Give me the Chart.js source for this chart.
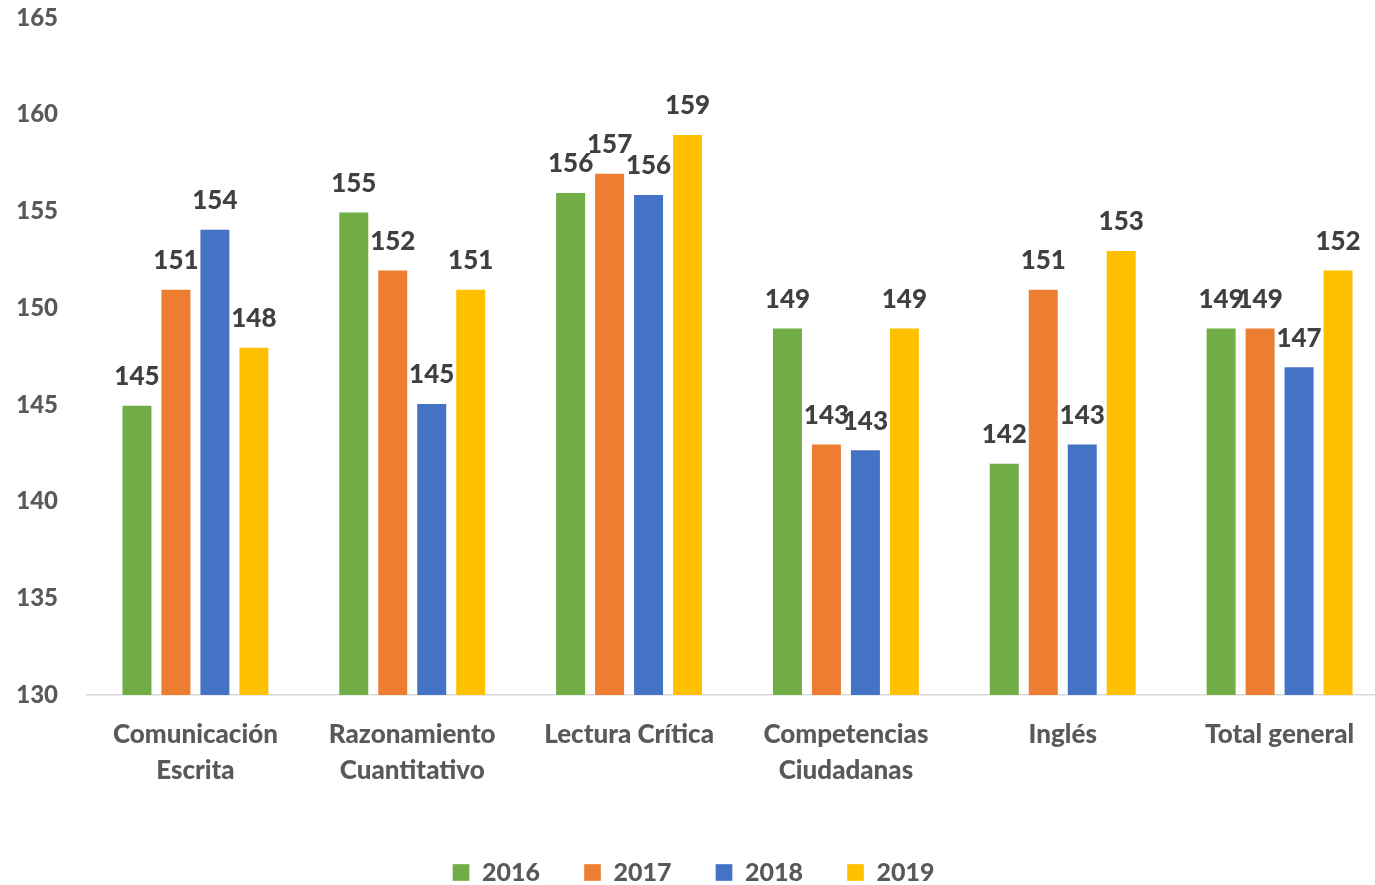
<!DOCTYPE html>
<html>
<head>
<meta charset="utf-8">
<script src="https://cdn.jsdelivr.net/npm/chart.js@4"></script>
<style>
  html, body { margin: 0; padding: 0; background: #fff; overflow: hidden; }
  #frame { width: 1375px; height: 885px; overflow: hidden; }
  #wrap { width: 1388px; height: 885px; }
</style>
</head>
<body>
<div id="frame"><div id="wrap"><canvas id="resultsChart"></canvas></div></div>
<script>
// categories and yearly averages
const categories = [
    ['Comunicación', 'Escrita'],
    ['Razonamiento', 'Cuantitativo'],
    'Lectura Crítica',
    ['Competencias', 'Ciudadanas'],
    'Inglés',
    'Total general'
];
const years = ['2016', '2017', '2018', '2019'];
const values2016 = [145, 155, 156, 149, 142, 149];
const values2017 = [151, 152, 157, 143, 151, 149];
const values2018 = [154.1, 145.1, 155.9, 142.7, 143, 147];
const values2019 = [148, 151, 159, 149, 153, 152];
const yTicks = [130, 135, 140, 145, 150, 155, 160, 165];

const colors = ['#70AD47', '#ED7D31', '#4472C4', '#FFC000'];
const fontFamily = 'Lato, "Open Sans", sans-serif';

// draws the rounded value over each bar
const valueLabels = {
    id: 'valueLabels',
    afterDatasetsDraw(chart) {
        const ctx = chart.ctx;
        ctx.save();
        ctx.font = '900 26px ' + fontFamily;
        ctx.fillStyle = '#404040';
        ctx.textAlign = 'center';
        ctx.textBaseline = 'middle';
        chart.data.datasets.forEach((ds, i) => {
            chart.getDatasetMeta(i).data.forEach((bar, j) => {
                ctx.fillText(Math.round(ds.data[j]), bar.x, bar.y - 28);
            });
        });
        ctx.restore();
    }
};

// canvas is a bit wider than the window, nudge the legend a little
const legendShift = {
    id: 'legendShift',
    afterLayout(chart) {
        if (chart.legend) {
            chart.legend.right -= 1;
        }
    }
};

document.addEventListener('DOMContentLoaded', function() {
    const ctx = document.getElementById('resultsChart').getContext('2d');
    const series = [values2016, values2017, values2018, values2019];
    new Chart(ctx, {
        type: 'bar',
        data: {
            labels: categories,
            datasets: series.map((vals, i) => ({
                label: years[i],
                data: vals,
                backgroundColor: colors[i],
                borderColor: 'rgba(255,255,255,0.35)',
                borderWidth: 1,
                categoryPercentage: 0.719,
                barPercentage: 0.795
            }))
        },
        options: {
            responsive: true,
            maintainAspectRatio: false,
            animation: false,
            layout: { padding: { top: 18, right: 0, bottom: -10, left: 0 } },
            scales: {
                x: {
                    grid: { display: false, drawTicks: false },
                    border: { display: true, color: '#D9D9D9', width: 1.5 },
                    afterFit: (scale) => { scale.height += 5; },
                    ticks: {
                        color: '#595959',
                        font: { family: fontFamily, size: 26, weight: '900', lineHeight: 1.385 },
                        padding: 22,
                        maxRotation: 0,
                        autoSkip: false
                    }
                },
                y: {
                    min: 130,
                    max: 165,
                    afterBuildTicks: (scale) => { scale.ticks = yTicks.map(v => ({ value: v })); },
                    afterFit: (scale) => {
                        scale.width = 87;
                        scale.paddingTop = 0;
                        scale.paddingBottom = 0;
                    },
                    grid: { display: false, drawTicks: false },
                    border: { display: false },
                    ticks: {
                        color: '#595959',
                        font: { family: fontFamily, size: 24, weight: '900' },
                        padding: 29
                    }
                }
            },
            plugins: {
                legend: {
                    display: true,
                    position: 'bottom',
                    labels: {
                        color: '#595959',
                        font: { family: fontFamily, size: 25, weight: '900' },
                        boxWidth: 17,
                        boxHeight: 17,
                        padding: 44
                    }
                },
                tooltip: { enabled: false }
            }
        },
        plugins: [valueLabels, legendShift]
    });
});
</script>
</body>
</html>
